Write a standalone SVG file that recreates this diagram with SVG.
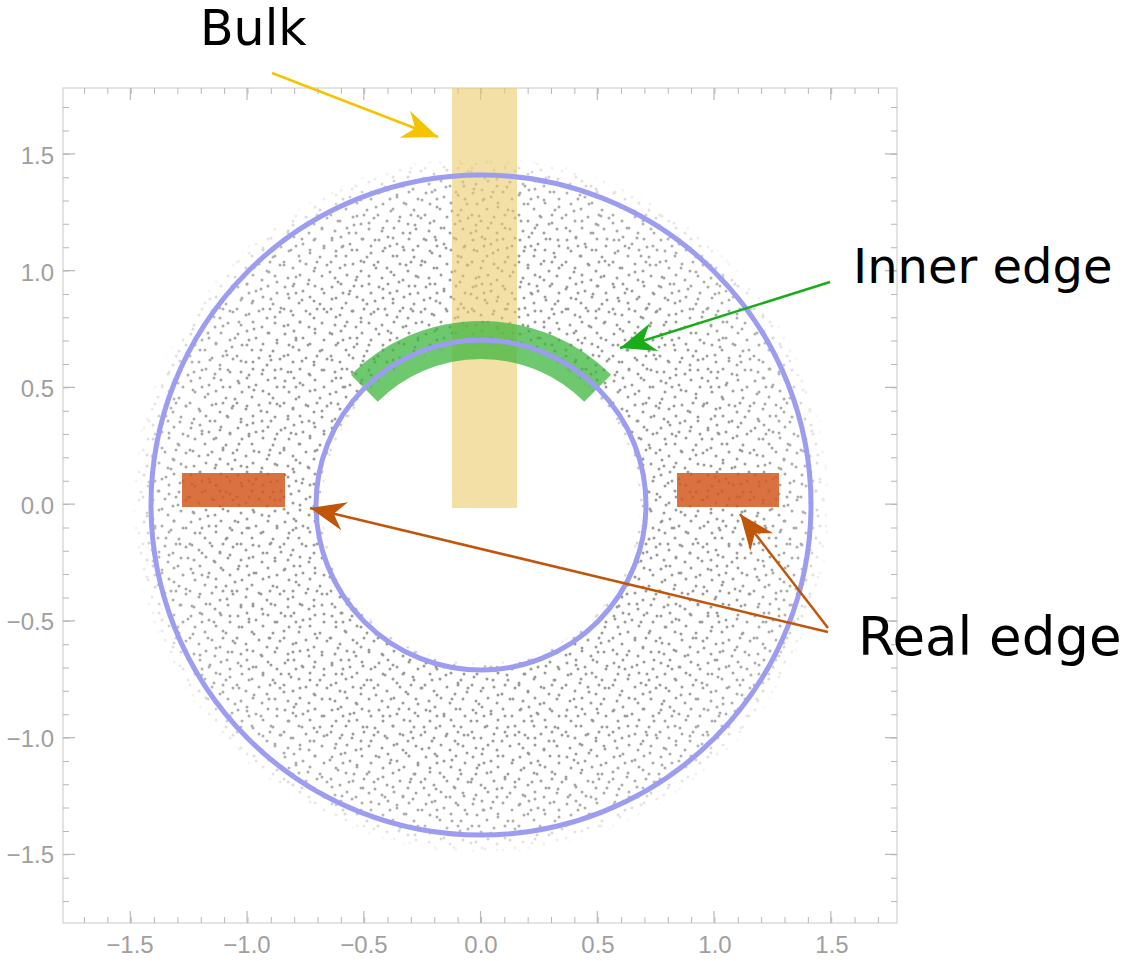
<svg xmlns="http://www.w3.org/2000/svg" width="1143" height="961" viewBox="0 0 1143 961">
<style>
.tick{font-family:"Liberation Sans",Arial,sans-serif;font-size:24px;fill:#a0a0a0}
.lab{font-family:"DejaVu Sans","Noto Sans",sans-serif;fill:#000}
.tk{stroke:#b8b8b8;fill:none}
.d circle{fill:#9a9a9a}
</style>
<defs>
<pattern id="p1" width="47" height="47" patternUnits="userSpaceOnUse" class="d">
<circle cx="3" cy="5" r="1.5"/><circle cx="12" cy="2" r="1.5"/><circle cx="21" cy="9" r="1.5"/><circle cx="33" cy="4" r="1.5"/><circle cx="42" cy="11" r="1.5"/>
<circle cx="7" cy="16" r="1.5"/><circle cx="17" cy="21" r="1.5"/><circle cx="28" cy="15" r="1.5"/><circle cx="38" cy="22" r="1.5"/><circle cx="45" cy="30" r="1.5"/>
<circle cx="2" cy="27" r="1.5"/><circle cx="11" cy="33" r="1.5"/><circle cx="24" cy="29" r="1.5"/><circle cx="32" cy="36" r="1.5"/><circle cx="40" cy="41" r="1.5"/>
<circle cx="6" cy="43" r="1.5"/><circle cx="18" cy="40" r="1.5"/><circle cx="27" cy="45" r="1.5"/><circle cx="35" cy="27" r="1.5"/><circle cx="14" cy="11" r="1.5"/>
</pattern>
<pattern id="p2" width="61" height="61" patternUnits="userSpaceOnUse" class="d">
<circle cx="5" cy="9" r="1.5"/><circle cx="19" cy="4" r="1.5"/><circle cx="31" cy="12" r="1.5"/><circle cx="47" cy="6" r="1.5"/><circle cx="56" cy="17" r="1.5"/>
<circle cx="10" cy="24" r="1.5"/><circle cx="25" cy="28" r="1.5"/><circle cx="40" cy="21" r="1.5"/><circle cx="52" cy="33" r="1.5"/><circle cx="3" cy="40" r="1.5"/>
<circle cx="17" cy="45" r="1.5"/><circle cx="33" cy="38" r="1.5"/><circle cx="44" cy="50" r="1.5"/><circle cx="58" cy="56" r="1.5"/><circle cx="9" cy="57" r="1.5"/>
<circle cx="27" cy="55" r="1.5"/><circle cx="37" cy="3" r="1.5"/><circle cx="49" cy="42" r="1.5"/>
</pattern>
<radialGradient id="rg" cx="481" cy="505" r="350" gradientUnits="userSpaceOnUse">
<stop offset="0.45" stop-color="#fff" stop-opacity="0"/>
<stop offset="0.47" stop-color="#fff" stop-opacity="1"/>
<stop offset="0.75" stop-color="#fff" stop-opacity="1"/>
<stop offset="0.92" stop-color="#fff" stop-opacity="0.8"/>
<stop offset="1" stop-color="#fff" stop-opacity="0"/>
</radialGradient>
<mask id="m"><circle cx="481" cy="505" r="350" fill="url(#rg)"/></mask>
<marker id="ay" markerUnits="userSpaceOnUse" markerWidth="40" markerHeight="40" viewBox="-32 -16 36 32" refX="0" refY="0" orient="auto"><path d="M0,0 L-32,-13 L-22,0 L-32,13 Z" fill="#f5c400"/></marker>
<marker id="ag" markerUnits="userSpaceOnUse" markerWidth="40" markerHeight="40" viewBox="-32 -16 36 32" refX="0" refY="0" orient="auto"><path d="M0,0 L-32,-13 L-22,0 L-32,13 Z" fill="#1aad1a"/></marker>
<marker id="ab" markerUnits="userSpaceOnUse" markerWidth="40" markerHeight="40" viewBox="-32 -16 36 32" refX="0" refY="0" orient="auto"><path d="M0,0 L-32,-13 L-22,0 L-32,13 Z" fill="#c0560a"/></marker>
</defs>
<rect width="1143" height="961" fill="#fff"/>
<g id="frame">
<rect x="63" y="88" width="834" height="835" fill="none" stroke="#c8c8c8" stroke-width="1"/>
<line class="tk" x1="84" y1="920" x2="897" y2="920" stroke-width="6" stroke-dasharray="1 22.35"/>
<line class="tk" x1="129.7" y1="917" x2="897" y2="917" stroke-width="12" stroke-dasharray="1.2 115.55"/>
<line class="tk" x1="84" y1="91" x2="897" y2="91" stroke-width="6" stroke-dasharray="1 22.35"/>
<line class="tk" x1="129.7" y1="94" x2="897" y2="94" stroke-width="12" stroke-dasharray="1.2 115.55"/>
<line class="tk" x1="66" y1="902" x2="66" y2="88" stroke-width="6" stroke-dasharray="1 22.35"/>
<line class="tk" x1="69" y1="855" x2="69" y2="88" stroke-width="12" stroke-dasharray="1.2 115.55"/>
<line class="tk" x1="894" y1="902" x2="894" y2="88" stroke-width="6" stroke-dasharray="1 22.35"/>
<line class="tk" x1="891" y1="855" x2="891" y2="88" stroke-width="12" stroke-dasharray="1.2 115.55"/>
</g>
<g id="xlabels" class="tick" text-anchor="middle">
<text x="130" y="953">−1.5</text><text x="247" y="953">−1.0</text><text x="364" y="953">−0.5</text><text x="481" y="953">0.0</text><text x="598" y="953">0.5</text><text x="715" y="953">1.0</text><text x="832" y="953">1.5</text>
</g>
<g id="ylabels" class="tick" text-anchor="end">
<text x="54" y="164">1.5</text><text x="54" y="281">1.0</text><text x="54" y="397">0.5</text><text x="54" y="514">0.0</text><text x="54" y="630">−0.5</text><text x="54" y="747">−1.0</text><text x="54" y="863">−1.5</text>
</g>
<g id="points" mask="url(#m)">
<rect x="120" y="145" width="722" height="722" fill="url(#p1)"/>
<rect x="120" y="145" width="722" height="722" fill="url(#p2)"/>
</g>
<g id="bulk"><rect x="452" y="88" width="65" height="420" fill="#ebcb6a" opacity="0.6"/></g>
<g id="inner-edge-band"><path d="M364.3,388.3 A165,165 0 0 1 597.7,388.3" fill="none" stroke="#3db53d" stroke-width="38" opacity="0.75"/></g>
<g id="real-edge-bands" fill="#d2581e" opacity="0.85">
<rect x="182" y="473" width="103" height="34"/><rect x="677" y="473" width="102" height="34"/>
</g>
<g id="circles" fill="none" stroke="#9c9cf0" stroke-width="5">
<circle cx="481" cy="505" r="330"/><circle cx="481" cy="505" r="165"/>
</g>
<g id="connectors" fill="none" stroke-width="2.5">
<line x1="272" y1="73" x2="438" y2="137" stroke="#f5c400" marker-end="url(#ay)"/>
<line x1="830" y1="282" x2="620" y2="348" stroke="#1aad1a" marker-end="url(#ag)"/>
<line x1="828" y1="632" x2="310" y2="508" stroke="#c0560a" marker-end="url(#ab)"/>
<line x1="828" y1="628" x2="740" y2="514" stroke="#c0560a" marker-end="url(#ab)"/>
</g>
<g id="labels" class="lab">
<text x="200" y="45" font-size="49">Bulk</text>
<text x="853" y="283" font-size="48">Inner edge</text>
<text x="858" y="655" font-size="53">Real edge</text>
</g>
</svg>
